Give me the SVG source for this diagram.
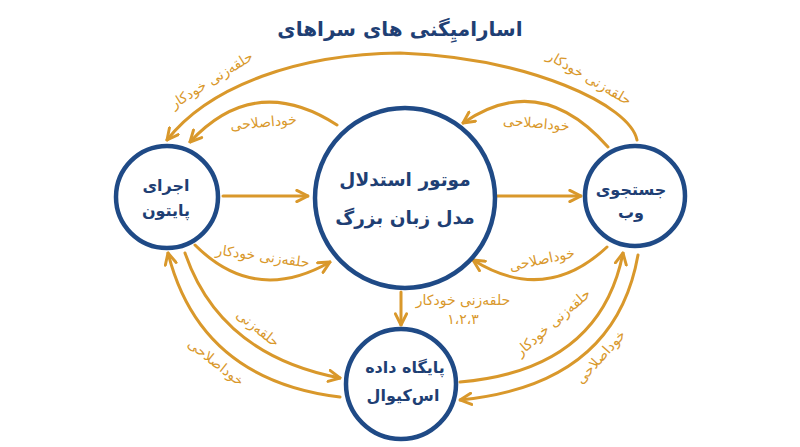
<svg xmlns="http://www.w3.org/2000/svg" width="800" height="447" viewBox="0 0 800 447">
<style>
.bg{fill:#ffffff}
.node{fill:#ffffff;stroke:#1f4a86;stroke-width:4.5}
.nt{font-family:"DejaVu Sans",sans-serif;font-weight:bold;fill:#1f3f74;text-anchor:middle}
.title{font-family:"DejaVu Sans",sans-serif;font-weight:bold;font-size:20px;fill:#1f3f74;text-anchor:middle}
.c{fill:none;stroke:#d9982b;stroke-width:3;stroke-linecap:round;marker-end:url(#ah)}
.lb{font-family:"DejaVu Sans",sans-serif;font-size:14px;fill:#d9982b;text-anchor:middle}
</style>
<defs>
<marker id="ah" viewBox="0 0 10 10" refX="9" refY="5" markerUnits="userSpaceOnUse" markerWidth="14" markerHeight="14" orient="auto">
<path d="M1,1 L9,5 L1,9" fill="none" stroke="#d9982b" stroke-width="2.1" stroke-linecap="round" stroke-linejoin="round"/>
</marker>
</defs>
<rect class="bg" x="0" y="0" width="800" height="447"/>
<text class="title" x="400" y="36" direction="rtl">اسارامیِگنی های سراهای</text>

<g id="connectors">
<path class="c" d="M637,140 C630,105 530,58 400,53 C300,54 210,85 167,140"/>
<path class="c" d="M337,125 Q255,72 190,142"/>
<path class="c" d="M608,147 Q540,70 463,123"/>
<path class="c" d="M223,196 L308,196"/>
<path class="c" d="M496,196 L581,196"/>
<path class="c" d="M195,245 Q255,305 330,262"/>
<path class="c" d="M607,247 Q545,305 473,260"/>
<path class="c" d="M401,292 L401,325"/>
<path class="c" d="M185,253 Q220,355 340,378"/>
<path class="c" d="M340,397 Q200,380 168,253"/>
<path class="c" d="M460,382 Q600,370 623,253"/>
<path class="c" d="M638,255 Q615,385 460,400"/>
<text class="lb" transform="translate(214,84) rotate(-32)" direction="rtl">حلقه‌زنی خودکار</text>
<text class="lb" transform="translate(587,82) rotate(30)" direction="rtl">حلقه‌زنی خودکار</text>
<text class="lb" transform="translate(264,127) rotate(-5)" direction="rtl">خوداصلاحی</text>
<text class="lb" transform="translate(536,128) rotate(5)" direction="rtl">خوداصلاحی</text>
<text class="lb" transform="translate(262,261) rotate(8)" direction="rtl">حلقه‌زنی خودکار</text>
<text class="lb" transform="translate(543,264) rotate(-12)" direction="rtl">خوداصلاحی</text>
<text class="lb" transform="translate(255,332) rotate(38)" direction="rtl">حلقه‌زنی</text>
<text class="lb" transform="translate(213,366) rotate(38)" direction="rtl">خوداصلاحی</text>
<text class="lb" transform="translate(556,326) rotate(-41)" direction="rtl">حلقه‌زنی خودکار</text>
<text class="lb" transform="translate(604,360) rotate(-48)" direction="rtl">خوداصلاحی</text>
<text class="lb" x="463" y="305" direction="rtl">حلقه‌زنی خودکار</text>
<text class="lb" x="463" y="324" font-size="15">۱،۲،۳</text>
</g>

<g id="node-llm">
<circle class="node" cx="405" cy="198" r="90"/>
<text class="nt" x="405" y="186" font-size="18.5" direction="rtl">موتور استدلال</text>
<text class="nt" x="405" y="224" font-size="18.5" direction="rtl">مدل زبان بزرگ</text>
</g>
<g id="node-python">
<circle class="node" cx="167" cy="197" r="51"/>
<text class="nt" x="166" y="191" font-size="16" direction="rtl">اجرای</text>
<text class="nt" x="166" y="216" font-size="16" direction="rtl">پایتون</text>
</g>
<g id="node-web">
<circle class="node" cx="635" cy="196" r="50"/>
<text class="nt" x="631" y="195" font-size="16" direction="rtl">جستجوی</text>
<text class="nt" x="631" y="218" font-size="16" direction="rtl">وب</text>
</g>
<g id="node-sql">
<circle class="node" cx="401" cy="384" r="55"/>
<text class="nt" x="405" y="373" font-size="16" direction="rtl">پایگاه داده</text>
<text class="nt" x="403" y="401" font-size="16" direction="rtl">اس‌کیوال</text>
</g>
</svg>
